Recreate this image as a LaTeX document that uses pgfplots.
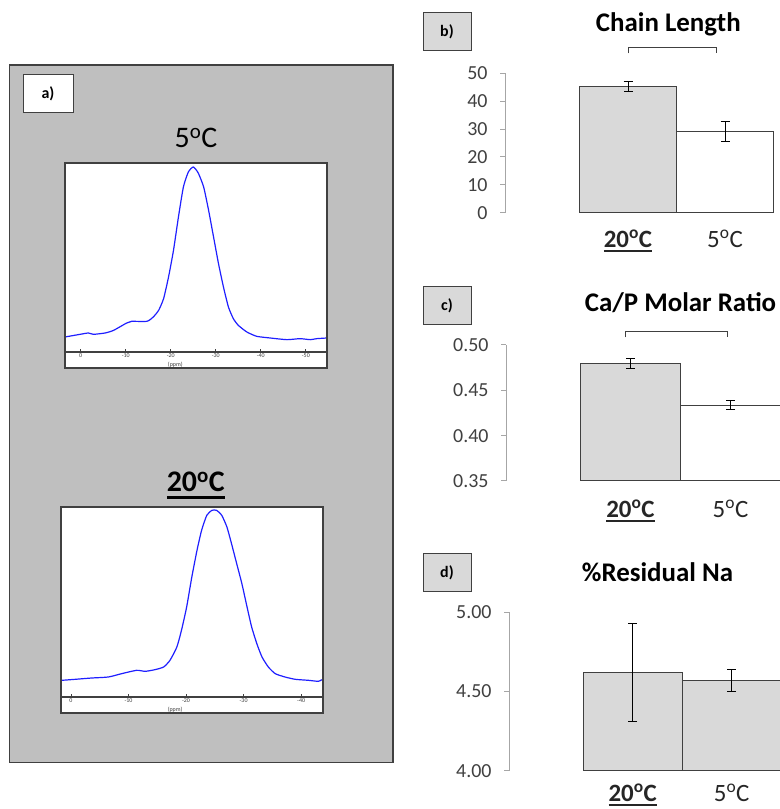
\documentclass[border=0pt]{standalone}
\usepackage{fontspec}
\setmainfont{Carlito}
\usepackage{pgfplots}
\pgfplotsset{compat=1.18}
\definecolor{panelgray}{HTML}{BFBFBF}
\definecolor{barfill}{HTML}{D9D9D9}
\definecolor{edge}{HTML}{404040}
\definecolor{axisgray}{HTML}{A6A6A6}
\definecolor{ticktext}{HTML}{404040}
\definecolor{nmrblue}{HTML}{1F1FFF}
\newcommand{\ul}[3]{\setbox0=\hbox{#1}\rlap{\rule[-#2]{\wd0}{#3}}\box0}
\newcommand{\degC}{\textsuperscript{o}C}
\pgfplotsset{
  nmr/.style={
    scale only axis, clip=false,
    axis x line*=middle, axis y line=none,
    hide obscured x ticks=false,
    x dir=reverse,
    axis background/.style={fill=white},
    x axis line style={edge, line width=1.2bp, -},
    xtick={0,-10,-20,-30,-40,-50},
    xticklabels={0,-10,-20,-30,-40,-50},
    major tick length=2.5bp,
    xtick style={edge, line width=0.8bp},
    xticklabel style={font=\fontsize{6}{6}\selectfont, text=edge, inner sep=1bp},
  },
  bars/.style={
    scale only axis,
    axis y line*=left, axis x line*=bottom,
    x axis line style={draw=none},
    xtick style={draw=none},
    y axis line style={axisgray, line width=1bp},
    ytick style={axisgray, line width=1bp},
    tick align=outside, major tick length=5bp,
    yticklabel style={font=\fontsize{20}{20}\selectfont, text=ticktext, xshift=-9bp},
    xticklabel style={font=\fontsize{25}{25}\selectfont, text=black!85, anchor=base, inner sep=1bp},
    /pgf/number format/assume math mode=true,
    xmin=0,
  },
  bar1/.style={ybar, bar shift=0pt, draw=edge, line width=1.1bp,
    error bars/y dir=both, error bars/y explicit,
    error bars/error bar style={black, line width=0.9bp},
    error bars/error mark options={black, rotate=90, mark size=4.5bp, line width=0.9bp}},
}
\begin{document}
\begin{tikzpicture}
\useasboundingbox (0,0) rectangle (780bp,809bp);
\clip (0,0) rectangle (780bp,809bp);
% ---------------- panel a
\draw[fill=panelgray, draw=edge, line width=1.5bp] (9.3bp,46.3bp) rectangle (393bp,744bp);
\draw[fill=white, draw=edge, line width=1bp] (23bp,696bp) rectangle (73bp,734bp);
\node[font=\fontsize{16}{16}\selectfont\bfseries] at (48bp,715bp) {a)};
\node[anchor=base, font=\fontsize{30}{30}\selectfont] at (196bp,661.3bp) {5\degC};
\node[anchor=base, font=\fontsize{30}{30}\selectfont\bfseries] at (195.7bp,317.3bp) {\ul{20\degC}{7bp}{2.8bp}};

\begin{axis}[nmr, at={(65bp,441bp)}, anchor=south west, width=262bp, height=205bp,
  xmin=-54.7, xmax=3.5, ymin=-48, ymax=567]
\addplot[nmrblue, line width=1.2bp, smooth, tension=0.35] coordinates {
(3.5,45) (0.15,53) (-1.7,57) (-2.8,53) (-5.4,57) (-7.3,65) (-10.2,87) (-11.3,92)
(-14.7,92) (-16.1,105) (-17.3,125) (-18.4,160) (-19.5,225) (-20.6,305) (-21.7,405)
(-22.8,495) (-23.9,540) (-25.0,555) (-26.1,537) (-27.3,495) (-28.4,425) (-29.5,345)
(-30.6,265) (-31.7,195) (-32.8,135) (-33.9,100) (-35.0,80) (-36.9,60) (-39.1,47)
(-42.1,42) (-45.8,37) (-48.7,40) (-51.0,37) (-52.4,40) (-54.7,42)};
\node[font=\fontsize{6}{6}\selectfont, text=edge] at (axis cs:-21,-37) {(ppm)};
\draw[edge, line width=1.2bp] (rel axis cs:0,0) rectangle (rel axis cs:1,1);
\end{axis}

\begin{axis}[nmr, at={(61bp,96bp)}, anchor=south west, width=262bp, height=206bp,
  xmin=-43.8, xmax=1.74, ymin=-48, ymax=570]
\addplot[nmrblue, line width=1.2bp, smooth, tension=0.35] coordinates {
(1.6,50) (-0.7,53) (-3.6,57) (-6.5,60) (-8.8,70) (-11.4,80) (-12.9,77) (-14.6,82)
(-16.1,90) (-17.2,110) (-18.4,150) (-19.2,200) (-20.1,270) (-21.0,360) (-21.9,440)
(-22.7,500) (-23.6,545) (-24.5,560) (-25.3,560) (-26.2,545) (-27.1,510) (-27.9,460)
(-28.8,400) (-29.7,340) (-30.6,270) (-31.4,210) (-32.3,160) (-33.2,120) (-34.3,90)
(-35.5,70) (-37.2,60) (-39.0,53) (-41.3,50) (-43.0,47) (-43.6,52)};
\node[font=\fontsize{6}{6}\selectfont, text=edge] at (axis cs:-18.1,-37) {(ppm)};
\draw[edge, line width=1.2bp] (rel axis cs:0,0) rectangle (rel axis cs:1,1);
\end{axis}

% ---------------- panel b
\draw[fill=barfill, draw=edge, line width=1bp] (423bp,758bp) rectangle (471bp,796bp);
\node[font=\fontsize{16}{16}\selectfont\bfseries] at (447bp,777bp) {b)};
\node[anchor=base, font=\fontsize{27}{27}\selectfont\bfseries] at (668.3bp,777.3bp) {Chain Length};
\draw[edge, line width=1.2bp] (628.3bp,755.7bp) -- (628.3bp,761.3bp) -- (716.7bp,761.3bp) -- (716.7bp,755.7bp);
\begin{axis}[bars, at={(505bp,596.3bp)}, anchor=south west, width=275bp, height=139.4bp,
  xmax=275, ymin=0, ymax=50, ytick={0,10,20,30,40,50},
  xtick={123,220}, xticklabels={\ul{\textbf{20\degC}}{4.5bp}{2.2bp},5\degC},
  xticklabel style={yshift=-30bp}]
\addplot[bar1, bar width=97, fill=barfill] coordinates {(123,45.25) +- (0,1.75)};
\addplot[bar1, bar width=97, fill=white] coordinates {(220,29.2) +- (0,3.5)};
\end{axis}

% ---------------- panel c
\draw[fill=barfill, draw=edge, line width=1bp] (423bp,484bp) rectangle (471bp,522bp);
\node[font=\fontsize{16}{16}\selectfont\bfseries] at (447bp,503bp) {c)};
\node[anchor=base, font=\fontsize{27}{27}\selectfont\bfseries] at (680.5bp,497.3bp) {Ca/P Molar Ratio};
\draw[edge, line width=1.2bp] (625.7bp,471.7bp) -- (625.7bp,477.3bp) -- (727.3bp,477.3bp) -- (727.3bp,471.7bp);
\begin{axis}[bars, at={(506bp,328bp)}, anchor=south west, width=274bp, height=136bp,
  xmax=274, ymin=0.35, ymax=0.50, ytick={0.35,0.40,0.45,0.50},
  yticklabel style={/pgf/number format/.cd, fixed, fixed zerofill, precision=2},
  xtick={124.5,224.5}, xticklabels={\ul{\textbf{20\degC}}{4.5bp}{2.2bp},5\degC},
  xticklabel style={yshift=-31.5bp}]
\addplot[bar1, bar width=100, fill=barfill] coordinates {(124.5,0.4798) +- (0,0.0053)};
\addplot[bar1, bar width=100, fill=white] coordinates {(224.5,0.4337) +- (0,0.005)};
\end{axis}

% ---------------- panel d
\draw[fill=barfill, draw=edge, line width=1bp] (423bp,217bp) rectangle (471bp,255bp);
\node[font=\fontsize{16}{16}\selectfont\bfseries] at (447bp,236bp) {d)};
\node[anchor=base, font=\fontsize{27}{27}\selectfont\bfseries] at (657.5bp,227.3bp) {\%Residual Na};
\begin{axis}[bars, at={(509bp,38.3bp)}, anchor=south west, width=271bp, height=158.4bp,
  xmax=271, ymin=4, ymax=5, ytick={4,4.5,5},
  yticklabel style={/pgf/number format/.cd, fixed, fixed zerofill, precision=2},
  xtick={123.7,222.7}, xticklabels={\ul{\textbf{20\degC}}{4.5bp}{2.2bp},5\degC},
  xticklabel style={yshift=-25.5bp}]
\addplot[bar1, bar width=99, fill=barfill] coordinates {(123.7,4.618) +- (0,0.31)};
\addplot[bar1, bar width=99, fill=barfill] coordinates {(222.7,4.57) +- (0,0.07)};
\end{axis}
\end{tikzpicture}
\end{document}
